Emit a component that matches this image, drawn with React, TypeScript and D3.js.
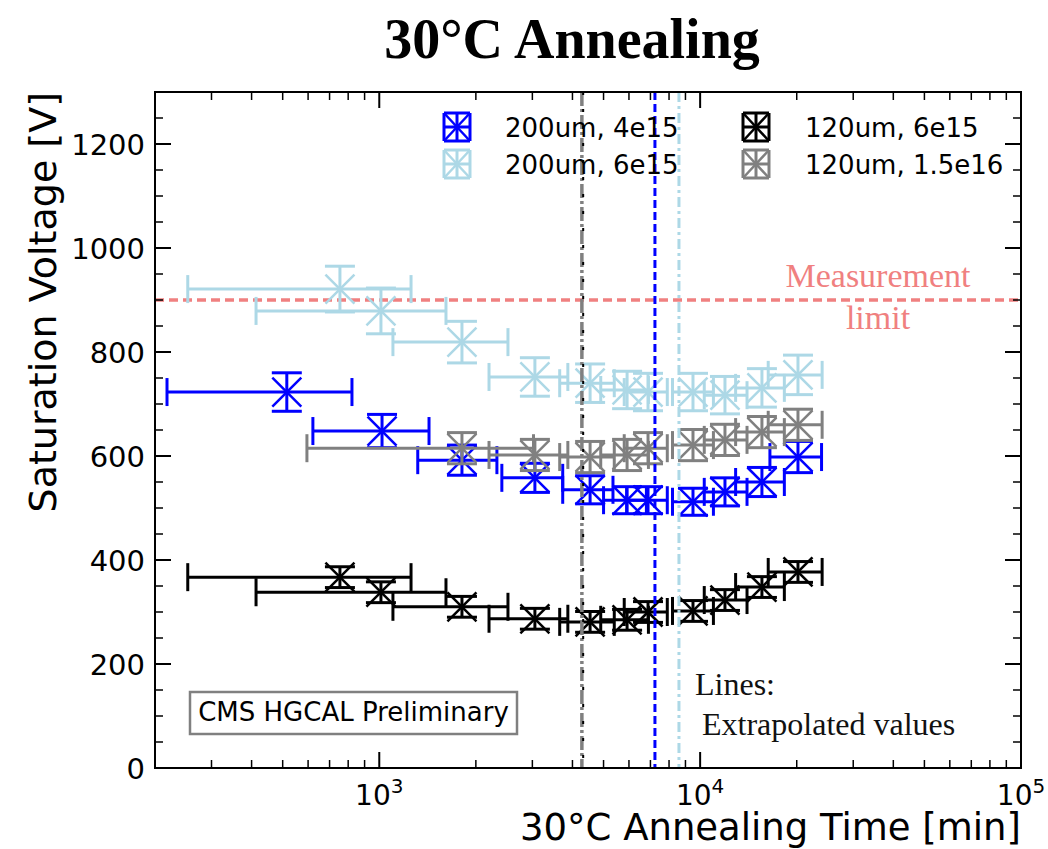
import React from "react";
import * as d3 from "d3";

// ---------- data ----------
const tA = [515, 1020, 1810, 3055, 4540, 5920, 6880, 9500, 11950, 15580, 20180];
const tAlo = [218, 621, 1318, 2410, 3730, 5000, 5900, 8200, 10300, 12900, 16500];
const tAhi = [822, 1429, 2326, 3730, 5350, 6800, 7900, 11000, 14000, 18300, 23900];
const vBlue = [723, 648, 592, 558, 535, 515, 515, 512, 531, 550, 598];
const eBlue = [37, 32, 29, 28, 27, 26, 26, 26, 27, 28, 30];

const tB = [754, 1012, 1810, 3055, 4540, 5920, 6880, 9500, 11950, 15580, 20180];
const tBlo = [253, 413, 1103, 2198, 3650, 4900, 5800, 8200, 10300, 12900, 16300];
const tBhi = [1256, 1614, 2518, 3870, 5400, 6900, 7900, 11000, 14000, 18300, 24000];
const vLight = [921, 879, 819, 752, 740, 727, 723, 723, 717, 731, 756];
const eLight = [44, 44, 40, 37, 37, 36, 36, 36, 36, 37, 38];

const vBlack = [367, 338, 310, 287, 281, 285, 300, 302, 323, 348, 377];
const eBlack = [20, 20, 20, 20, 20, 20, 20, 20, 20, 20, 20];

const tG = [1810, 3055, 4540, 5920, 6880, 9500, 11950, 15580, 20180];
const tGlo = [595, 2198, 3650, 4900, 5800, 8200, 10300, 12900, 16300];
const tGhi = [3025, 3870, 5400, 6900, 7900, 11000, 14000, 18300, 24000];
const vGray = [615, 602, 598, 602, 615, 621, 631, 646, 660];
const eGray = [30, 30, 30, 30, 30, 30, 30, 30, 30];

const seriesNames = ["200um, 4e15", "200um, 6e15", "120um, 6e15", "120um, 1.5e16"];
const extrapT = [4320, 4280, 7230, 8590]; // black, gray, blue, lightblue
const measurementLimit = 900;
const yTickValues = [0, 200, 400, 600, 800, 1000, 1200];
const xTickExps = [3, 4, 5];

// ---------- layout ----------
const W = 1048, H = 849;
const L = 155, R = 1021, T = 92, B = 768;

const x = d3.scaleLog().domain([200, 1e5]).range([L, R]);
const y = d3.scaleLinear().domain([0, 1300]).range([B, T]);

const COLORS = ["#0000ff", "#add8e6", "#000000", "#808080"];

const series = [
  { name: seriesNames[0], color: COLORS[0], t: tA, lo: tAlo, hi: tAhi, v: vBlue, e: eBlue },
  { name: seriesNames[1], color: COLORS[1], t: tB, lo: tBlo, hi: tBhi, v: vLight, e: eLight },
  { name: seriesNames[2], color: COLORS[2], t: tB, lo: tBlo, hi: tBhi, v: vBlack, e: eBlack },
  { name: seriesNames[3], color: COLORS[3], t: tG, lo: tGlo, hi: tGhi, v: vGray, e: eGray },
];

const SANS = "DejaVu Sans, sans-serif";
const SERIF = "Liberation Serif, DejaVu Serif, serif";
const LW = 3;
const CAP = 15;
const XCAP = 14;
const MK = 14.5;

function ErrPoint({ cx, cy, x0, x1, y0, y1, color }: any) {
  return (
    <g stroke={color} strokeWidth={LW} fill="none">
      <line x1={x0} x2={x1} y1={cy} y2={cy} />
      <line x1={x0} x2={x0} y1={cy - XCAP} y2={cy + XCAP} />
      <line x1={x1} x2={x1} y1={cy - XCAP} y2={cy + XCAP} />
      <line x1={cx} x2={cx} y1={y0} y2={y1} />
      <line x1={cx - CAP} x2={cx + CAP} y1={y0} y2={y0} />
      <line x1={cx - CAP} x2={cx + CAP} y1={y1} y2={y1} />
      <line x1={cx - MK} x2={cx + MK} y1={cy - MK} y2={cy + MK} strokeWidth={2.5} />
      <line x1={cx - MK} x2={cx + MK} y1={cy + MK} y2={cy - MK} strokeWidth={2.5} />
    </g>
  );
}

function LegendGlyph({ cx, cy, color }: any) {
  const w = 13, h = 14;
  return (
    <g stroke={color} strokeWidth={LW} fill="none">
      <line x1={cx - w} x2={cx + w} y1={cy} y2={cy} />
      <line x1={cx - w} x2={cx - w} y1={cy - h} y2={cy + h} />
      <line x1={cx + w} x2={cx + w} y1={cy - h} y2={cy + h} />
      <line x1={cx} x2={cx} y1={cy - h} y2={cy + h} />
      <line x1={cx - w} x2={cx + w} y1={cy - h} y2={cy - h} />
      <line x1={cx - w} x2={cx + w} y1={cy + h} y2={cy + h} />
      <line x1={cx - w} x2={cx + w} y1={cy - h} y2={cy + h} strokeWidth={2.5} />
      <line x1={cx - w} x2={cx + w} y1={cy + h} y2={cy - h} strokeWidth={2.5} />
    </g>
  );
}

export default function App() {
  const xMinor: number[] = [];
  for (let k = 2; k <= 4; k++) {
    for (let m = 2; m <= 9; m++) {
      const v = m * Math.pow(10, k);
      if (v >= 200 && v <= 1e5) xMinor.push(v);
    }
  }
  const yMinor = d3.range(0, 1301, 50).filter((v) => v % 200 !== 0);

  const ticks = (side: "bottom" | "top") => {
    const y0 = side === "bottom" ? B : T;
    const dir = side === "bottom" ? -1 : 1;
    return (
      <g stroke="#000">
        {xMinor.map((v, i) => (
          <line key={"xm" + side + i} x1={x(v)} x2={x(v)} y1={y0} y2={y0 + dir * 8} strokeWidth={1.5} />
        ))}
        {xTickExps.map((e) => (
          <line key={"xM" + side + e} x1={x(Math.pow(10, e))} x2={x(Math.pow(10, e))} y1={y0} y2={y0 + dir * 16} strokeWidth={2} />
        ))}
      </g>
    );
  };
  const yticks = (side: "left" | "right") => {
    const x0 = side === "left" ? L : R;
    const dir = side === "left" ? 1 : -1;
    return (
      <g stroke="#000">
        {yMinor.map((v, i) => (
          <line key={"ym" + side + i} x1={x0} x2={x0 + dir * 8} y1={y(v)} y2={y(v)} strokeWidth={1.5} />
        ))}
        {yTickValues.map((v) => (
          <line key={"yM" + side + v} x1={x0} x2={x0 + dir * 16} y1={y(v)} y2={y(v)} strokeWidth={2} />
        ))}
      </g>
    );
  };

  const legendPos = [
    { cx: 457, cy: 127, tx: 505 },
    { cx: 457, cy: 164, tx: 505 },
    { cx: 756, cy: 127, tx: 805 },
    { cx: 756, cy: 164, tx: 805 },
  ];

  return (
    <svg width={W} height={H} style={{ position: "absolute", left: 0, top: 0, background: "#fff" }}>
      <rect x={0} y={0} width={W} height={H} fill="#fff" />
      <defs>
        <clipPath id="plotclip">
          <rect x={L} y={T} width={R - L} height={B - T} />
        </clipPath>
      </defs>

      {/* Title */}
      <text x={572} y={58} textAnchor="middle" fontFamily={SERIF} fontWeight="bold" fontSize={56} fill="#000">
        30°C Annealing
      </text>

      <g clipPath="url(#plotclip)">
        {/* measurement limit */}
        <line x1={L} x2={R} y1={y(measurementLimit)} y2={y(measurementLimit)} stroke="#f08080" strokeWidth={3.5} strokeDasharray="9,5" />

        {series.map((s, si) => (
          <g key={si}>
            {s.t.map((t, i) => (
              <ErrPoint
                key={i}
                cx={x(t)}
                cy={y(s.v[i])}
                x0={x(s.lo[i])}
                x1={x(s.hi[i])}
                y0={y(s.v[i] + s.e[i])}
                y1={y(s.v[i] - s.e[i])}
                color={s.color}
              />
            ))}
          </g>
        ))}

        {/* extrapolated lines */}
        <line x1={x(extrapT[1])} x2={x(extrapT[1])} y1={T} y2={B} stroke="#808080" strokeWidth={3.5} strokeDasharray="14,3,3,3" />
        <line x1={x(extrapT[0])} x2={x(extrapT[0])} y1={T} y2={B} stroke="#000" strokeWidth={2} strokeDasharray="3,14" />
        <line x1={x(extrapT[2])} x2={x(extrapT[2])} y1={T} y2={B} stroke="#0000ff" strokeWidth={3} strokeDasharray="8,4" />
        <line x1={x(extrapT[3])} x2={x(extrapT[3])} y1={T} y2={B} stroke="#add8e6" strokeWidth={3} strokeDasharray="10,4,3,4" />
      </g>

      {/* Annotations */}
      <text x={878} y={287} textAnchor="middle" fontFamily={SERIF} fontSize={34} fill="#f08080">Measurement</text>
      <text x={878} y={329} textAnchor="middle" fontFamily={SERIF} fontSize={34} fill="#f08080">limit</text>
      <text x={695} y={695} fontFamily={SERIF} fontSize={32} fill="#111">Lines:</text>
      <text x={702} y={735} fontFamily={SERIF} fontSize={32} fill="#111">Extrapolated values</text>

      <rect x={190} y={692} width={327} height={42} fill="#fff" stroke="#808080" strokeWidth={2.5} />
      <text x={353.5} y={721} textAnchor="middle" fontFamily={SANS} fontSize={26} fill="#000">CMS HGCAL Preliminary</text>

      {/* Legend */}
      {series.map((s, i) => (
        <g key={"lg" + i}>
          <LegendGlyph cx={legendPos[i].cx} cy={legendPos[i].cy} color={s.color} />
          <text x={legendPos[i].tx} y={legendPos[i].cy + 9.5} fontFamily={SANS} fontSize={26} fill="#000">{s.name}</text>
        </g>
      ))}

      {/* Ticks */}
      {ticks("bottom")}
      {ticks("top")}
      {yticks("left")}
      {yticks("right")}

      {/* Frame */}
      <rect x={L} y={T} width={R - L} height={B - T} fill="none" stroke="#000" strokeWidth={2} />

      {/* Y tick labels */}
      {yTickValues.map((v) => (
        <text key={"yl" + v} x={145} y={y(v) + 10.5} textAnchor="end" fontFamily={SANS} fontSize={29} fill="#000">{v}</text>
      ))}
      {/* X tick labels */}
      {xTickExps.map((e) => (
        <text key={"xl" + e} x={x(Math.pow(10, e))} y={805} textAnchor="middle" fontFamily={SANS} fontSize={28} fill="#000">
          10<tspan fontSize={20} dy={-12}>{e}</tspan>
        </text>
      ))}

      {/* Axis labels */}
      <text x={R} y={840} textAnchor="end" fontFamily={SANS} fontSize={37} fill="#000">30°C Annealing Time [min]</text>
      <text transform={`translate(56,${T}) rotate(-90)`} textAnchor="end" fontFamily={SANS} fontSize={38} fill="#000">Saturation Voltage [V]</text>
    </svg>
  );
}
